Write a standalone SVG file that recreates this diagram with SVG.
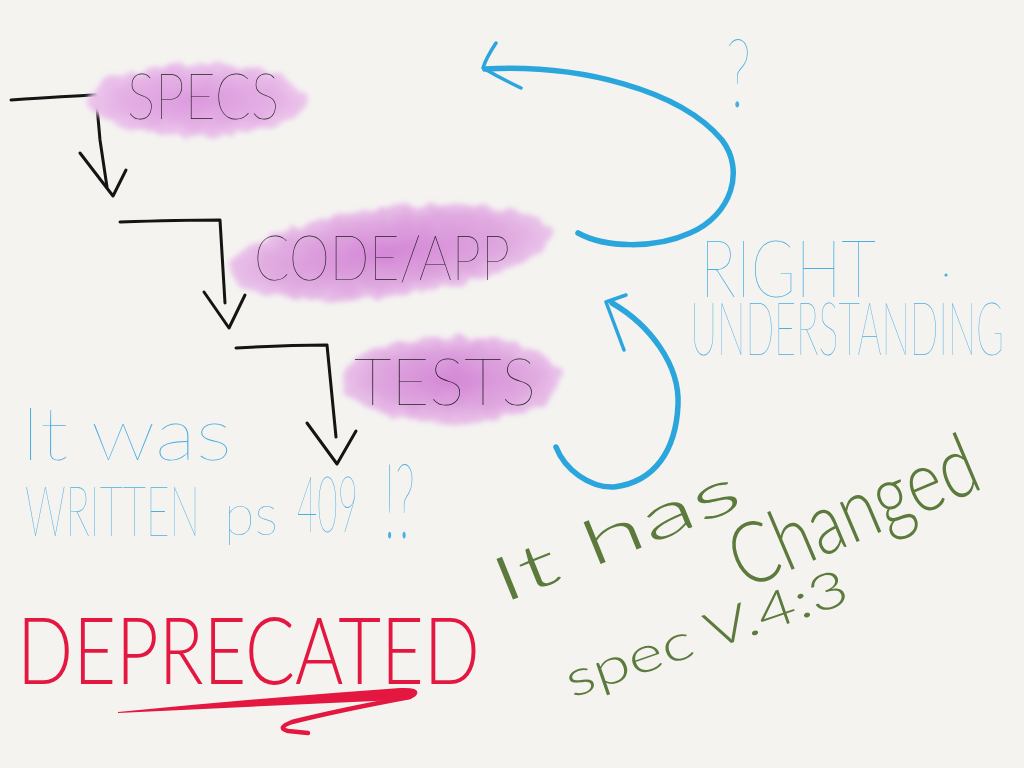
<svg xmlns="http://www.w3.org/2000/svg" width="1024" height="768" viewBox="0 0 1024 768">
<defs>
<style>
.hand{font-family:Lato,"Liberation Sans","DejaVu Sans",sans-serif;font-weight:200}
.blk{fill:#1a1a1a}
.blu{fill:#4aaee0}
.grn{fill:#5b7a3b;font-weight:300}
.red{fill:#e3173f;font-weight:300}
.conn{fill:none;stroke:#141414;stroke-width:3;stroke-linecap:round;stroke-linejoin:round}
.barrow{fill:none;stroke:#2ba6dd;stroke-width:5.5;stroke-linecap:round;stroke-linejoin:round}
.bhead{fill:none;stroke:#2ba6dd;stroke-width:3.5;stroke-linecap:round;stroke-linejoin:round}
</style>
<filter id="blob" x="-25%" y="-50%" width="150%" height="200%">
<feTurbulence type="fractalNoise" baseFrequency="0.06" numOctaves="2" seed="4" result="n"/>
<feDisplacementMap in="SourceGraphic" in2="n" scale="14" xChannelSelector="R" yChannelSelector="G" result="d"/>
<feGaussianBlur in="d" stdDeviation="2.5"/>
</filter>
<radialGradient id="pink1" cx="50%" cy="50%" r="50%">
<stop offset="0" stop-color="#dc98de"/>
<stop offset="0.75" stop-color="#e5b3e5"/>
<stop offset="1" stop-color="#ecc8ec"/>
</radialGradient>
<radialGradient id="pink2" cx="50%" cy="50%" r="50%">
<stop offset="0" stop-color="#d486d6"/>
<stop offset="0.75" stop-color="#e0aae0"/>
<stop offset="1" stop-color="#eac4ea"/>
</radialGradient>
</defs>
<rect width="1024" height="768" fill="#f4f3f0"/>

<g id="connectors">
<path class="conn" d="M11,100 C40,98 70,96 96,95 L100,140 L107,187"/>
<path class="conn" d="M80,153 L113,196 L126,170"/>
<path class="conn" d="M120,222 C150,221 190,220 220,220 L225,303"/>
<path class="conn" d="M204,292 L229,328 L245,295"/>
<path class="conn" d="M236,348 C270,346 300,345 327,345 L336,437"/>
<path class="conn" d="M307,423 L337,464 L356,431"/>
</g>

<g id="node-specs">
<ellipse cx="198" cy="100" rx="110" ry="36" fill="url(#pink1)" filter="url(#blob)"/>
<text class="hand blk" x="127" y="119" font-size="64" textLength="152" lengthAdjust="spacingAndGlyphs">SPECS</text>
</g>
<g id="node-code">
<ellipse cx="390" cy="252" rx="162" ry="44" transform="rotate(-7 390 252)" fill="url(#pink2)" filter="url(#blob)"/>
<text class="hand blk" x="254" y="280" font-size="62" textLength="256" lengthAdjust="spacingAndGlyphs">CODE/APP</text>
</g>
<g id="node-tests">
<ellipse cx="452" cy="379" rx="110" ry="43" fill="url(#pink2)" filter="url(#blob)"/>
<text class="hand blk" x="354" y="405" font-size="66" textLength="182" lengthAdjust="spacingAndGlyphs">TESTS</text>
</g>

<g id="feedback-loop">
<path class="barrow" d="M485,69 C580,64 680,90 722,140 C745,170 732,215 690,233 C655,249 605,248 578,233"/>
<path class="bhead" d="M496,43 Q486,58 483,68 Q500,78 521,88"/>
<path class="barrow" d="M612,303 C650,325 680,365 678,405 C676,450 655,482 614,487 C590,488 565,470 556,447"/>
<path class="bhead" d="M626,295 L606,302 L624,350"/>
<text class="hand blu" x="726" y="107" font-size="96" textLength="25" lengthAdjust="spacingAndGlyphs">?</text>
</g>

<g id="right-understanding">
<text class="hand blu" x="700" y="297" font-size="80" textLength="176" lengthAdjust="spacingAndGlyphs">RIGHT</text>
<circle cx="946" cy="275" r="1.6" fill="#4aaee0"/>
<text class="hand blu" x="690" y="355" font-size="74" textLength="314" lengthAdjust="spacingAndGlyphs">UNDERSTANDING</text>
</g>

<g id="it-was-written">
<text class="hand blu" x="20" y="460" font-size="75" textLength="212" lengthAdjust="spacingAndGlyphs">It was</text>
<text class="hand blu" x="25" y="536" font-size="70" textLength="175" lengthAdjust="spacingAndGlyphs">WRITTEN</text>
<text class="hand blu" x="224" y="535" font-size="58" textLength="54" lengthAdjust="spacingAndGlyphs">ps</text>
<text class="hand blu" x="297" y="532" font-size="78" textLength="61" lengthAdjust="spacingAndGlyphs">409</text>
<text class="hand blu" x="384" y="538" font-size="104" textLength="31" lengthAdjust="spacingAndGlyphs">!?</text>
</g>

<g id="deprecated">
<text class="hand red" x="17" y="684" font-size="92" textLength="463" lengthAdjust="spacingAndGlyphs">DEPRECATED</text>
<path fill="#e3173f" d="M118,712 Q260,698 400,688 Q420,687 417,694 Q414,700 398,700 Q260,706 118,713 Z"/>
<path d="M410,697 Q340,710 292,722 Q276,728 288,731 L308,733" fill="none" stroke="#e3173f" stroke-width="4.5" stroke-linecap="round" stroke-linejoin="round"/>
</g>

<g id="it-has-changed">
<text class="hand grn" x="502" y="604" font-size="62" textLength="262" lengthAdjust="spacingAndGlyphs" transform="rotate(-22 502 604)">It has</text>
<text class="hand grn" x="744" y="590" font-size="86" textLength="262" lengthAdjust="spacingAndGlyphs" transform="rotate(-23 744 590)">Changed</text>
<text class="hand grn" x="572" y="698" font-size="50" textLength="296" lengthAdjust="spacingAndGlyphs" transform="rotate(-19 572 698)">spec V.4:3</text>
</g>
</svg>
